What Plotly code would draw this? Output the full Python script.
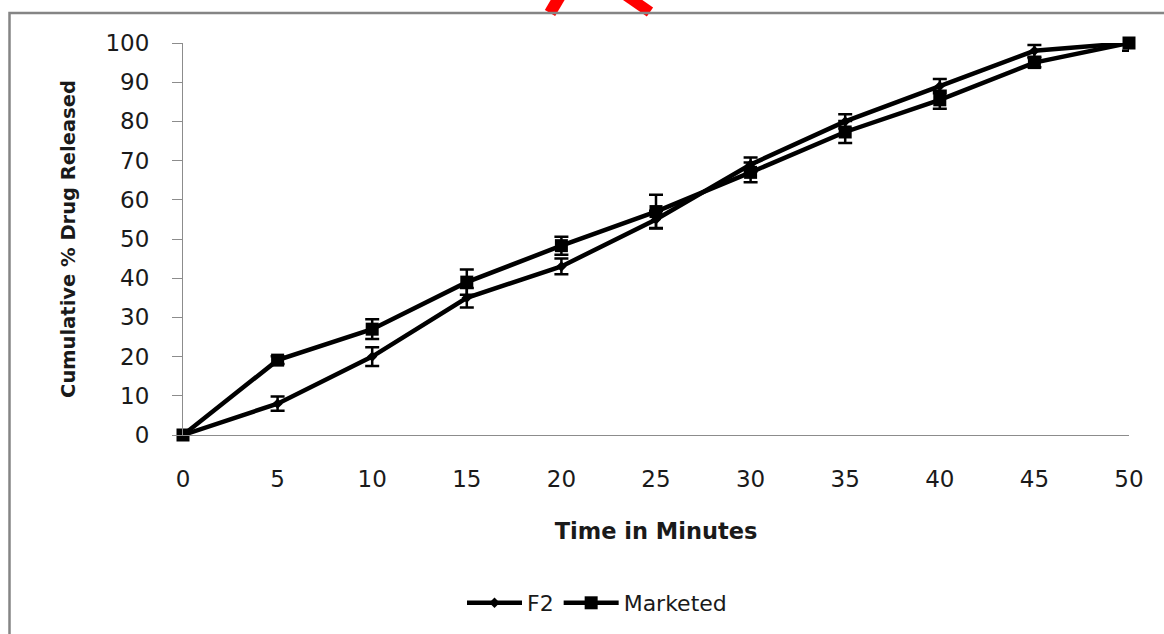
import plotly.graph_objects as go

time_min = [0, 5, 10, 15, 20, 25, 30, 35, 40, 45, 50]
f2 = [0, 8, 20, 35, 43, 55, 69, 80, 89, 98, 100]
f2_err = [0, 1.8, 2.4, 2.5, 2.0, 2.2, 1.8, 1.8, 1.8, 1.5, 0]
marketed = [0, 19.1, 27, 39, 48.3, 57, 67, 77.3, 85.5, 95, 100]
marketed_err = [0, 1.0, 2.5, 3.2, 2.3, 4.3, 2.5, 2.8, 2.3, 1.2, 2.0]

x_ticks = [0, 5, 10, 15, 20, 25, 30, 35, 40, 45, 50]
y_ticks = [0, 10, 20, 30, 40, 50, 60, 70, 80, 90, 100]

L, R, T, B = 183, 35, 43, 199
W, H = 1164, 634
PW, PH = W - L - R, H - T - B

def px(x):
    return (x - L) / PW

def py(y):
    return (H - B - y) / PH

fig = go.Figure()
fig.add_trace(go.Scatter(
    x=time_min, y=f2, name="F2", mode="lines+markers",
    line=dict(color="black", width=4.5),
    marker=dict(symbol="diamond", size=8, color="black"),
    error_y=dict(type="data", array=f2_err, visible=True, color="black", thickness=2.5, width=7),
    cliponaxis=False,
))
fig.add_trace(go.Scatter(
    x=time_min, y=marketed, name="Marketed", mode="lines+markers",
    line=dict(color="black", width=4.5),
    marker=dict(symbol="square", size=13, color="black"),
    error_y=dict(type="data", array=marketed_err, visible=True, color="black", thickness=2.5, width=7),
    cliponaxis=False,
))

shapes = [
    dict(type="line", xref="paper", yref="paper", x0=px(560), y0=py(-4), x1=px(550), y1=py(13),
         line=dict(color="#ff0000", width=12), layer="above"),
    dict(type="line", xref="paper", yref="paper", x0=px(624), y0=py(-6), x1=px(650), y1=py(12),
         line=dict(color="#ff0000", width=11), layer="above"),
    dict(type="rect", xref="paper", yref="paper", x0=px(9.5), y0=py(13), x1=px(1180), y1=py(650),
         line=dict(color="#858585", width=2.5), fillcolor="rgba(0,0,0,0)", layer="above"),
]

fig.update_layout(
    width=W, height=H,
    margin=dict(l=L, r=R, t=T, b=B, autoexpand=False),
    paper_bgcolor="white", plot_bgcolor="white",
    font=dict(family="DejaVu Sans", color="#1a1a1a"),
    showlegend=True,
    legend=dict(orientation="h", x=px(597), y=py(603), xanchor="center", yanchor="middle",
                font=dict(size=22, color="#1a1a1a"), bgcolor="rgba(0,0,0,0)", itemwidth=55),
    shapes=shapes,
    xaxis=dict(
        range=[0, 50], tickmode="array", tickvals=x_ticks, ticktext=[str(v) for v in x_ticks],
        showgrid=False, zeroline=False, showline=True, linecolor="#8c8c8c", linewidth=1.2,
        ticks="", ticklabelstandoff=23, tickfont=dict(size=23),
        title=dict(text="<b>Time in Minutes</b>", font=dict(size=22.5), standoff=32),
        automargin=False,
    ),
    yaxis=dict(
        range=[0, 100], tickmode="array", tickvals=y_ticks, ticktext=[str(v) for v in y_ticks],
        showgrid=False, zeroline=False, showline=True, linecolor="#8c8c8c", linewidth=1.2,
        ticks="outside", ticklen=10, tickcolor="#8c8c8c", tickwidth=1.2,
        ticklabelstandoff=18, tickfont=dict(size=23),
        title=dict(text="<b>Cumulative % Drug Released</b>", font=dict(size=19.5), standoff=24),
        automargin=False,
    ),
)

fig.write_html("out.html", config={"displayModeBar": False},
               post_script="document.body.style.margin='0';")
